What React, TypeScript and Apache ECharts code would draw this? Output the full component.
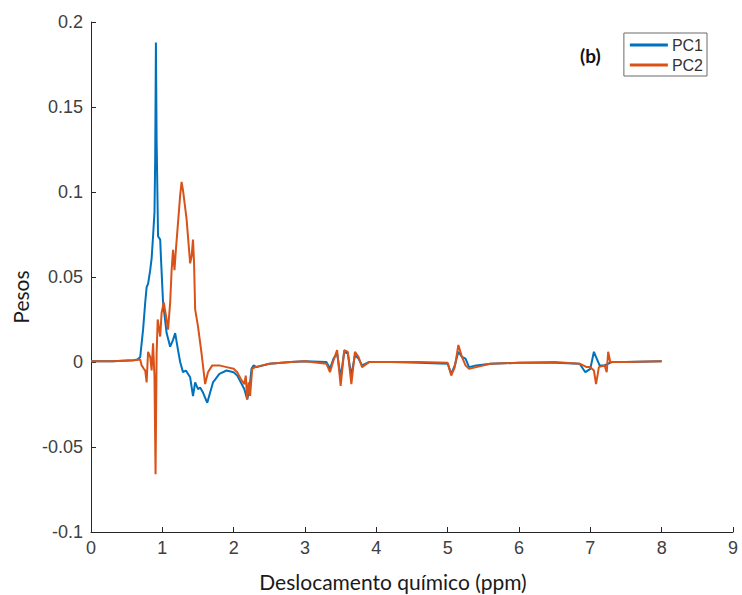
import React, { useEffect, useRef } from "react";
import * as echarts from "echarts";

const xTicks = [0, 1, 2, 3, 4, 5, 6, 7, 8, 9];
const yTicks = [-0.1, -0.05, 0, 0.05, 0.1, 0.15, 0.2];

const pc1X = [0, 0.3, 0.6, 0.65, 0.69, 0.73, 0.76, 0.78, 0.8, 0.83, 0.85, 0.87, 0.89, 0.9, 0.91, 0.92, 0.94, 0.97, 0.98, 1.01, 1.06, 1.11, 1.15, 1.18, 1.22, 1.25, 1.29, 1.33, 1.39, 1.43, 1.46, 1.5, 1.53, 1.57, 1.63, 1.67, 1.71, 1.8, 1.9, 2.0, 2.05, 2.1, 2.15, 2.19, 2.22, 2.25, 2.28, 2.32, 2.5, 2.8, 3.0, 3.3, 3.35, 3.4, 3.45, 3.5, 3.55, 3.6, 3.65, 3.7, 3.75, 3.8, 3.9, 4.2, 4.6, 5.0, 5.05, 5.1, 5.15, 5.2, 5.25, 5.3, 5.4, 5.6, 6.0, 6.5, 6.85, 6.93, 7.0, 7.05, 7.1, 7.13, 7.2, 7.3, 7.5, 8.0];
const pc1Y = [0.0005, 0.0005, 0.001, 0.0015, 0.003, 0.019, 0.035, 0.044, 0.046, 0.054, 0.061, 0.074, 0.088, 0.12, 0.188, 0.13, 0.074, 0.072, 0.062, 0.035, 0.017, 0.009, 0.013, 0.017, 0.007, 0.0, -0.006, -0.005, -0.009, -0.02, -0.012, -0.016, -0.015, -0.018, -0.024, -0.018, -0.012, -0.007, -0.005, -0.006, -0.008, -0.012, -0.016, -0.022, -0.016, -0.004, -0.002, -0.003, -0.001, 0.0, 0.0005, 0.0, -0.004, 0.002, 0.005, -0.009, 0.006, 0.005, -0.008, 0.004, 0.002, -0.002, 0.0, 0.0, -0.0005, -0.001, -0.007, -0.002, 0.006, 0.003, 0.002, -0.003, -0.002, -0.001, -0.0005, -0.0005, -0.001, -0.006, -0.004, 0.006, 0.001, -0.002, -0.002, 0.0, 0.0, 0.0005];

const pc2X = [0, 0.3, 0.6, 0.69, 0.71, 0.74, 0.76, 0.78, 0.8, 0.83, 0.85, 0.87, 0.89, 0.905, 0.92, 0.935, 0.97, 0.99, 1.02, 1.06, 1.08, 1.11, 1.13, 1.15, 1.17, 1.19, 1.22, 1.25, 1.27, 1.29, 1.34, 1.39, 1.41, 1.43, 1.445, 1.46, 1.5, 1.55, 1.6, 1.64, 1.7, 1.8, 1.9, 2.0, 2.05, 2.1, 2.15, 2.17, 2.19, 2.21, 2.23, 2.26, 2.3, 2.5, 2.8, 3.0, 3.3, 3.35, 3.4, 3.45, 3.5, 3.55, 3.6, 3.65, 3.7, 3.75, 3.8, 3.9, 4.2, 4.6, 5.0, 5.05, 5.1, 5.15, 5.2, 5.25, 5.3, 5.4, 5.6, 6.0, 6.5, 6.85, 6.95, 7.0, 7.05, 7.08, 7.12, 7.2, 7.23, 7.25, 7.28, 7.5, 8.0];
const pc2Y = [0.0005, 0.0005, 0.001, 0.0015, -0.002, -0.004, -0.005, -0.012, 0.006, 0.003, -0.005, 0.011, -0.009, -0.066, 0.005, 0.025, 0.015, 0.029, 0.035, 0.025, 0.019, 0.035, 0.054, 0.066, 0.054, 0.066, 0.082, 0.098, 0.106, 0.101, 0.084, 0.058, 0.062, 0.072, 0.058, 0.031, 0.021, 0.005, -0.013, -0.006, -0.002, -0.002, -0.003, -0.004, -0.006, -0.01, -0.013, -0.008, -0.022, -0.012, -0.02, -0.004, -0.003, -0.001, 0.0, 0.0005, -0.001, -0.006, 0.001, 0.007, -0.014, 0.007, 0.006, -0.013, 0.006, 0.003, -0.003, 0.0, 0.0, 0.0, -0.0005, -0.008, -0.003, 0.01, 0.003, -0.002, -0.004, -0.003, -0.001, -0.0005, 0.0, -0.001, -0.003, -0.003, -0.005, -0.013, -0.003, -0.002, -0.006, 0.006, 0.0, 0.0, 0.0005];

const seriesNames = ["PC1", "PC2"];
const seriesColors = ["#0072BD", "#D95319"];

function zip(xs: number[], ys: number[]) {
  return xs.map((x, i) => [x, ys[i]]);
}

export default function App() {
  const ref = useRef<HTMLDivElement>(null);
  useEffect(() => {
    if (!ref.current) return;
    const chart = echarts.init(ref.current, undefined, { renderer: "svg" });
    const axisColor = "#262626";
    const labelColor = "#404040";
    chart.setOption({
      animation: false,
      backgroundColor: "#ffffff",
      grid: { left: 91, right: 9, top: 22, bottom: 63 },
      xAxis: {
        type: "value",
        min: xTicks[0],
        max: xTicks[xTicks.length - 1],
        interval: 1,
        axisLine: { show: true, onZero: false, lineStyle: { color: axisColor, width: 1 } },
        axisTick: { show: true, inside: true, length: 5, lineStyle: { color: axisColor } },
        axisLabel: { color: labelColor, fontSize: 18, fontFamily: "Liberation Sans", margin: 7 },
        splitLine: { show: false },
      },
      yAxis: {
        type: "value",
        min: yTicks[0],
        max: yTicks[yTicks.length - 1],
        interval: 0.05,
        axisLine: { show: true, onZero: false, lineStyle: { color: axisColor, width: 1 } },
        axisTick: { show: true, inside: true, length: 5, lineStyle: { color: axisColor } },
        axisLabel: {
          color: labelColor,
          fontSize: 18,
          fontFamily: "Liberation Sans",
          margin: 8,
          formatter: (v: number) => String(Math.round(v * 100) / 100),
        },
        splitLine: { show: false },
      },
      legend: {
        orient: "vertical",
        right: 35,
        top: 33,
        data: seriesNames,
        icon: "rect",
        itemWidth: 38,
        itemHeight: 3,
        itemGap: 4,
        padding: [4, 4, 3, 6],
        borderColor: "#6a6a6a",
        borderWidth: 1,
        backgroundColor: "#ffffff",
        textStyle: { color: "#333333", fontSize: 16, fontFamily: "Liberation Sans", padding: [0, 0, 0, -1] },
      },
      graphic: [
        {
          type: "text",
          left: 580,
          top: 46,
          style: { text: "(b)", fontSize: 19, fontWeight: "bold", fontFamily: "Lato", fill: "#111111" },
        },
        {
          type: "text",
          x: 393,
          y: 581,
          style: {
            text: "Deslocamento químico (ppm)",
            fontSize: 21,
            fontFamily: "Lato",
            fill: "#1a1a1a",
            align: "center",
            verticalAlign: "middle",
          },
        },
        {
          type: "text",
          x: 20,
          y: 297,
          rotation: Math.PI / 2,
          style: {
            text: "Pesos",
            fontSize: 21,
            fontFamily: "Lato",
            fill: "#1a1a1a",
            align: "center",
            verticalAlign: "middle",
          },
        },
      ],
      series: [
        {
          name: seriesNames[0],
          type: "line",
          data: zip(pc1X, pc1Y),
          showSymbol: false,
          symbol: "none",
          lineStyle: { color: seriesColors[0], width: 2 },
          itemStyle: { color: seriesColors[0] },
          z: 2,
        },
        {
          name: seriesNames[1],
          type: "line",
          data: zip(pc2X, pc2Y),
          showSymbol: false,
          symbol: "none",
          lineStyle: { color: seriesColors[1], width: 2 },
          itemStyle: { color: seriesColors[1] },
          z: 3,
        },
      ],
    });
    return () => chart.dispose();
  }, []);
  return (
    <div
      ref={ref}
      style={{ position: "fixed", left: 0, top: 0, width: 742, height: 595, background: "#fff" }}
    />
  );
}
